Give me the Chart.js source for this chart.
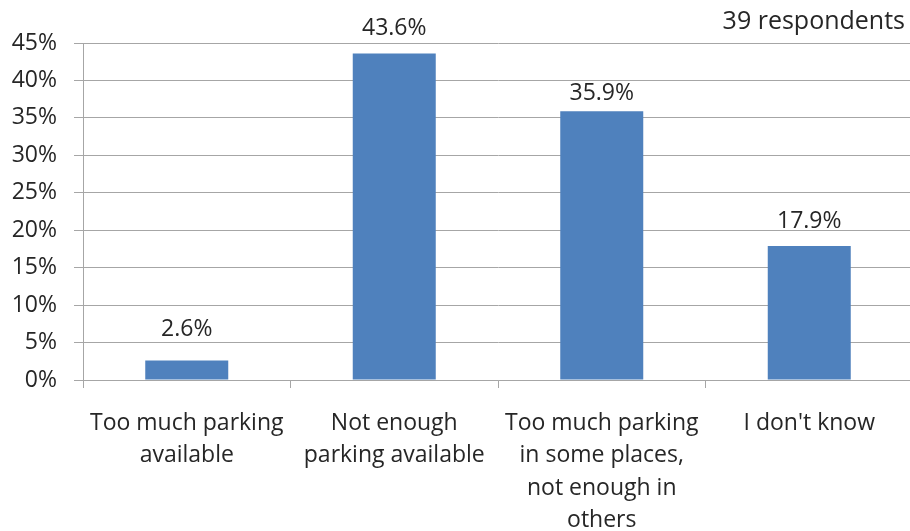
<!DOCTYPE html>
<html lang="en">
<head>
    <meta charset="UTF-8">
    <title>Parking availability</title>
    <script src="https://cdn.jsdelivr.net/npm/chart.js"></script>
    <style>
        html, body {
            margin: 0;
            padding: 0;
            background: #ffffff;
            overflow: hidden;
        }
        .chart-box {
            position: relative;
            width: 916px;
            height: 531px;
        }
    </style>
</head>
<body>
    <div class="chart-box">
        <canvas id="parkingChart"></canvas>
    </div>

    <script>
        // Survey answers (share of respondents, %)
        const categories = [
            ['Too much parking', 'available'],
            ['Not enough', 'parking available'],
            ['Too much parking', 'in some places,', 'not enough in', 'others'],
            "I don't know"
        ];
        const shares = [2.6, 43.6, 35.9, 17.9];
        const yTicks = [0, 5, 10, 15, 20, 25, 30, 35, 40, 45];
        const respondents = '39 respondents';

        // gap (px) between each bar top and the baseline of its value label
        const labelLift = [25, 18, 11, 18];

        const textColor = '#262626';
        const lineColor = '#a6a6a6';
        const fontFamily = '"Open Sans", Lato, sans-serif';

        // value labels above each bar + respondent count in the corner
        const barLabels = {
            id: 'barLabels',
            afterDatasetsDraw(chart) {
                const ctx = chart.ctx;
                ctx.save();
                ctx.font = '23px ' + fontFamily;
                ctx.fillStyle = textColor;
                ctx.textAlign = 'center';
                ctx.textBaseline = 'alphabetic';
                chart.getDatasetMeta(0).data.forEach((bar, i) => {
                    ctx.fillText(shares[i].toFixed(1) + '%', bar.x, bar.y - labelLift[i]);
                });
                ctx.font = '25px ' + fontFamily;
                ctx.textAlign = 'right';
                ctx.fillText(respondents, 905, 29);
                ctx.restore();
            }
        };

        new Chart(document.getElementById('parkingChart'), {
            type: 'bar',
            data: {
                labels: categories,
                datasets: [{
                    data: shares,
                    backgroundColor: '#4f81bd',
                    borderWidth: 0,
                    barPercentage: 0.4,
                    categoryPercentage: 1.0
                }]
            },
            options: {
                responsive: true,
                maintainAspectRatio: false,
                animation: false,
                layout: {
                    padding: { top: 43, right: 3, left: 0, bottom: 0 }
                },
                plugins: {
                    legend: { display: false },
                    tooltip: { enabled: false }
                },
                scales: {
                    x: {
                        grid: {
                            offset: true,
                            drawOnChartArea: false,
                            drawTicks: true,
                            tickLength: 8,
                            color: lineColor,
                            lineWidth: 1
                        },
                        border: { color: lineColor, width: 1 },
                        ticks: {
                            color: textColor,
                            font: { family: fontFamily, size: 23, lineHeight: 1.41 },
                            padding: 19,
                            maxRotation: 0,
                            autoSkip: false
                        },
                        afterFit(scale) { scale.height = 151; }
                    },
                    y: {
                        min: 0,
                        max: 45,
                        afterBuildTicks(scale) {
                            scale.ticks = yTicks.map(v => ({ value: v }));
                        },
                        grid: {
                            drawTicks: true,
                            tickLength: 9,
                            color: lineColor,
                            lineWidth: 1
                        },
                        border: { color: lineColor, width: 1 },
                        ticks: {
                            color: textColor,
                            font: { family: fontFamily, size: 23 },
                            padding: 17,
                            callback: v => v + '%'
                        },
                        afterFit(scale) { scale.width = 83; }
                    }
                }
            },
            plugins: [barLabels]
        });
    </script>
</body>
</html>
